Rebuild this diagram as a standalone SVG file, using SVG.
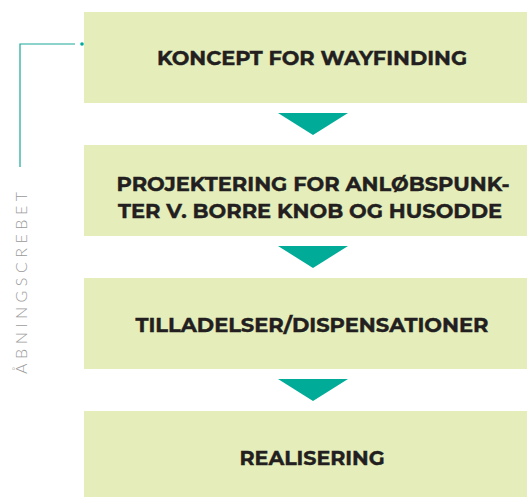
<svg xmlns="http://www.w3.org/2000/svg" width="527" height="497" viewBox="0 0 527 497">
<style>
.box{fill:#e5eebb}
.arr{fill:#00ab98}
.lbl{font-family:"Montserrat","Liberation Sans","Arial",sans-serif;font-weight:bold;font-size:19px;fill:#231f20;stroke:#231f20;stroke-width:0.4;text-anchor:middle}
.side{font-family:"Lato","Liberation Sans",sans-serif;font-weight:300;font-size:16px;fill:#9a9a9a;letter-spacing:4px}
</style>
<rect width="527" height="497" fill="#ffffff"/>
<g id="connectors">
<polygon class="arr" points="278,113 348,113 313,135"/>
<polygon class="arr" points="278,246 348,246 313,268"/>
<polygon class="arr" points="278,379 348,379 313,401"/>
</g>
<g id="bracket">
<polyline points="20,167 20,44 75,44" fill="none" stroke="#1aa898" stroke-width="1.2"/>
<circle cx="82" cy="44" r="1.8" fill="#00ab98"/>
<text class="side" transform="translate(27,374) rotate(-90)" textLength="186" lengthAdjust="spacing">ÅBNINGSCREBET</text>
</g>
<g id="n1">
<rect class="box" x="84" y="12" width="443" height="91"/>
<text class="lbl" x="312" y="65" textLength="310" lengthAdjust="spacingAndGlyphs">KONCEPT FOR WAYFINDING</text>
</g>
<g id="n2">
<rect class="box" x="84" y="145" width="443" height="91"/>
<text class="lbl" x="313" y="191" textLength="393" lengthAdjust="spacingAndGlyphs">PROJEKTERING FOR ANLØBSPUNK-</text>
<text class="lbl" x="310" y="218" textLength="384" lengthAdjust="spacingAndGlyphs">TER V. BORRE KNOB OG HUSODDE</text>
</g>
<g id="n3">
<rect class="box" x="84" y="278" width="443" height="91"/>
<text class="lbl" x="312" y="332" textLength="353" lengthAdjust="spacingAndGlyphs">TILLADELSER/DISPENSATIONER</text>
</g>
<g id="n4">
<rect class="box" x="84" y="411" width="443" height="86"/>
<text class="lbl" x="312" y="465" textLength="145" lengthAdjust="spacingAndGlyphs">REALISERING</text>
</g>
</svg>
